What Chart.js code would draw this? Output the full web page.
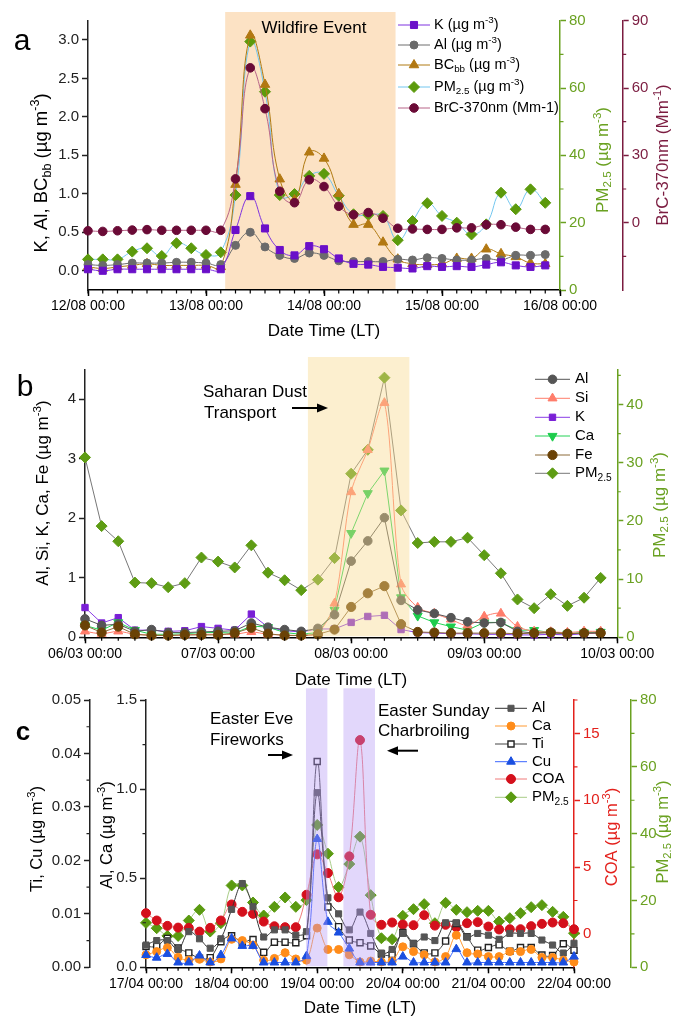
<!DOCTYPE html>
<html lang="en">
<head>
<meta charset="UTF-8" />
<title>Episodes: wildfire, Saharan dust, Easter</title>
<script src="https://cdn.jsdelivr.net/npm/chart.js"></script>
<style>
  body { margin: 0; background: #fff; }
  #wrap { position: relative; width: 675px; height: 1018px; overflow: hidden; }
  canvas { position: absolute; left: 0; }
</style>
</head>
<body>
<div id="wrap">
  <canvas id="chartA" width="675" height="345" style="top:0px"></canvas>
  <canvas id="chartB" width="675" height="360" style="top:335px"></canvas>
  <canvas id="chartC" width="675" height="338" style="top:680px"></canvas>
</div>

<script>
// ---- categories (3-hourly) ----
const hours = ['00:00','03:00','06:00','09:00','12:00','15:00','18:00','21:00'];
const aDays = ['12/08','13/08','14/08','15/08','16/08'];
const bDays = ['06/03','07/03','08/03','09/03','10/03'];
const cDays = ['17/04','18/04','19/04','20/04','21/04','22/04'];

function slots(days) {
  const out = [];
  days.forEach((d, i) => {
    (i < days.length - 1 ? hours : ['00:00']).forEach(h => out.push(d + ' ' + h));
  });
  return out;
}
const aLabels = slots(aDays);
const bLabels = slots(bDays);
const cLabels = slots(cDays);

// ---- panel a: wildfire ----
const aK   = [0.02,0.0,0.02,0.02,0.02,0.02,0.02,0.02,0.02,0.02,0.53,0.97,0.55,0.27,0.2,0.32,0.28,0.16,0.09,0.08,0.05,0.04,0.03,0.06,0.05,0.06,0.05,0.08,0.11,0.07,0.05,0.07];
const aAl  = [0.08,0.07,0.08,0.1,0.1,0.1,0.11,0.11,0.1,0.08,0.33,0.5,0.31,0.2,0.16,0.23,0.2,0.13,0.12,0.12,0.12,0.15,0.14,0.17,0.16,0.14,0.14,0.16,0.14,0.2,0.2,0.21];
const aBC  = [0.05,0.03,0.05,0.07,0.09,0.07,0.07,0.07,0.07,0.05,1.12,3.06,2.42,1.19,0.92,1.54,1.46,1.0,0.6,0.6,0.37,0.15,0.09,0.08,0.09,0.16,0.16,0.28,0.22,0.18,0.1,0.09];
const aPM  = [9.1,9.1,9.1,11.4,12.4,10.1,13.9,12.4,10.4,11.2,28.2,73.8,58.9,28.2,28.5,33.9,34.5,28.0,22.5,22.3,22,14.8,20.5,25.8,22,20,16.5,19.5,28.9,24,29.9,25.9];
const aBrC = [-3.6,-3.9,-3.6,-3.3,-3.1,-3.4,-3.4,-3.4,-3.4,-3.4,19.5,69.0,50.8,14.0,8.9,19.1,16.1,7.3,3.5,4.5,2,-2.5,-2.8,-3,-3,-2.3,-2.3,-0.9,-0.9,-2,-3,-3];
const aFire = [9.3, 20.85];
const aLeftTicks = [0,0.5,1,1.5,2,2.5,3];
const aPMTicks = [0,20,40,60,80];
const aPMMinor = [10,30,50,70];
const aBrCTicks = [0,30,60,90];
const aBrCMinor = [-15,15,45,75];

// ---- panel b: Saharan dust ----
const bAl = [0.31,0.2,0.22,0.1,0.13,0.08,0.08,0.09,0.1,0.11,0.24,0.17,0.13,0.1,0.15,0.38,1.28,1.62,2.01,0.62,0.46,0.4,0.33,0.26,0.24,0.25,0.1,0.07,0.08,0.06,0.07,0.08];
const bSi = [0.1,0.06,0.1,0.05,0.04,0.03,0.04,0.05,0.05,0.05,0.09,0.05,0.04,0.03,0.07,0.57,2.44,3.15,3.94,0.89,0.5,0.4,0.3,0.2,0.35,0.4,0.18,0.1,0.09,0.08,0.1,0.1];
const bK  = [0.5,0.24,0.33,0.12,0.12,0.1,0.11,0.18,0.15,0.12,0.39,0.17,0.11,0.09,0.14,0.14,0.25,0.35,0.37,0.13,0.08,0.07,0.06,0.06,0.05,0.05,0.04,0.04,0.05,0.04,0.06,0.07];
const bCa = [0.2,0.12,0.25,0.12,0.05,0.05,0.06,0.08,0.08,0.07,0.19,0.17,0.08,0.05,0.08,0.46,1.75,2.42,2.8,0.67,0.36,0.25,0.18,0.12,0.25,0.25,0.12,0.12,0.08,0.06,0.08,0.09];
const bFe = [0.2,0.08,0.18,0.05,0.03,0.03,0.04,0.04,0.04,0.07,0.16,0.06,0.03,0.03,0.05,0.13,0.51,0.74,0.86,0.22,0.09,0.08,0.07,0.07,0.07,0.07,0.06,0.07,0.08,0.06,0.07,0.07];
const bPM = [30.9,19.1,16.5,9.4,9.3,8.6,9.3,13.7,13.0,12.0,15.8,11.1,9.8,8.1,9.9,13.6,28.1,32.2,44.6,21.8,16.2,16.4,16.4,17.1,14.1,11.0,6.5,5.0,7.4,5.4,6.8,10.2];
const bDust = [13.4, 19.5];
const bLeftTicks = [0,1,2,3,4];
const bPMTicks = [0,10,20,30,40];
const bPMMinor = [5,15,25,35,45];

// ---- panel c: Easter ----
const cAl  = [0.125,0.15,0.15,0.1,0.2,0.16,0.107,0.16,0.325,0.47,0.34,0.17,0.21,0.21,0.18,0.2,0.98,0.39,0.3,0.21,0.31,0.19,0.08,0.1,0.19,0.135,0.17,0.15,0.25,0.25,0.17,0.19,0.18,0.157,0.19,0.19,0.19,0.153,0.125,0.08,0.135];
const cCa  = [0.07,0.088,0.11,0.056,0.04,0.045,0.03,0.047,0.157,0.15,0.125,0.04,0.05,0.082,0.047,0.04,0.22,0.1,0.1,0.07,0.03,0.035,0.03,0.035,0.115,0.088,0.07,0.03,0.06,0.18,0.082,0.075,0.06,0.06,0.088,0.088,0.1,0.055,0.055,0.04,0.03];
const cTi  = [0.0039,0.0039,0.0054,0.0036,0.0027,0.0017,0.0018,0.0048,0.0059,0.0046,0.0052,0.0028,0.0047,0.0047,0.0046,0.0059,0.0385,0.0113,0.0076,0.0051,0.0046,0.004,0.0025,0.0024,0.0065,0.0044,0.0027,0.0027,0.0049,0.0082,0.0057,0.0032,0.0037,0.0042,0.003,0.0037,0.0037,0.0023,0.0022,0.0044,0.0032];
const cCu  = [0.0023,0.0018,0.0025,0.0009,0.0009,0.0022,0.0009,0.0023,0.0054,0.004,0.004,0.0009,0.0009,0.0009,0.0009,0.0021,0.024,0.0085,0.0065,0.0035,0.0009,0.0009,0.0009,0.0009,0.002,0.0009,0.0009,0.0009,0.0009,0.0034,0.0009,0.0009,0.0009,0.0009,0.0009,0.0009,0.0009,0.0009,0.0009,0.0009,0.002];
const cCOA = [1.55,1.0,0.6,0.47,0.45,0.17,0.45,1.0,2.2,1.65,1.5,0.92,0.57,0.5,0.5,2.93,5.95,4.55,2.74,5.8,14.5,1.43,0.68,0.85,0.7,0.65,1.4,0.62,0.68,0.5,0.8,0.88,0.55,0.33,0.35,0.35,0.58,0.75,0.85,0.8,0.35];
const cPM  = [13.3,11.7,9.4,9.4,14,17.2,10.7,13.2,24.5,24.5,19.4,15.5,18.1,20.9,18.1,20.1,42.6,34,24,30.9,39.1,21.6,8.7,8.4,15.4,17.4,18.9,13.2,19.3,17.2,16.5,16.9,16.9,13.7,14.7,16.2,18.0,18.6,16.6,15.1,10.2];
const cEve = [14.95, 16.95];
const cSunday = [18.45, 21.4];
const cTiTicks = [0,0.01,0.02,0.03,0.04,0.05];
const cTiMinor = [0.005,0.015,0.025,0.035,0.045];
const cAlTicks = [0,0.5,1,1.5];
const cAlMinor = [0.25,0.75,1.25];
const cCOATicks = [0,5,10,15];
const cCOAMinor = [2.5,7.5,12.5,17.5];
const cPMTicks = [0,20,40,60,80];
const cPMMinor = [10,30,50,70];

// ---- shared bits ----
const FAM = 'Arial, "Liberation Sans", sans-serif';
Chart.defaults.font.family = FAM;
Chart.defaults.font.size = 14;
Chart.defaults.color = '#000';
Chart.defaults.animation = false;

const GREEN = '#6aa121';
const MAROON = '#7b1c40';
const RED = '#e3211c';
const DEG90 = -Math.PI / 2;

// draw text with _{sub} and ^{sup}
function drawRich(ctx, str, x, y, o) {
  const parts = [];
  const re = /([_^])\{([^}]*)\}/g;
  let last = 0, m;
  while ((m = re.exec(str))) {
    if (m.index > last) parts.push({ t: str.slice(last, m.index), k: '' });
    parts.push({ t: m[2], k: m[1] });
    last = re.lastIndex;
  }
  if (last < str.length) parts.push({ t: str.slice(last), k: '' });
  const size = o.size || 14;
  const fontFor = k => (o.bold ? 'bold ' : '') + (k ? size * 0.68 : size) + 'px ' + FAM;
  let w = 0;
  parts.forEach(p => { ctx.font = fontFor(p.k); p.w = ctx.measureText(p.t).width; w += p.w; });
  ctx.save();
  ctx.translate(x, y);
  if (o.rot) ctx.rotate(o.rot);
  ctx.fillStyle = o.color || '#000';
  ctx.textBaseline = 'middle';
  ctx.textAlign = 'left';
  let cx = o.align === 'left' ? 0 : o.align === 'right' ? -w : -w / 2;
  parts.forEach(p => {
    ctx.font = fontFor(p.k);
    const dy = p.k === '_' ? size * 0.3 : p.k === '^' ? -size * 0.33 : 0;
    ctx.fillText(p.t, cx, dy);
    cx += p.w;
  });
  ctx.restore();
}

function drawArrow(ctx, x0, y, x1) {
  const dir = Math.sign(x1 - x0);
  ctx.save();
  ctx.strokeStyle = '#000';
  ctx.fillStyle = '#000';
  ctx.lineWidth = 2;
  ctx.beginPath();
  ctx.moveTo(x0, y);
  ctx.lineTo(x1 - dir * 8, y);
  ctx.stroke();
  ctx.beginPath();
  ctx.moveTo(x1, y);
  ctx.lineTo(x1 - dir * 11, y - 4.5);
  ctx.lineTo(x1 - dir * 11, y + 4.5);
  ctx.closePath();
  ctx.fill();
  ctx.restore();
}

function paintShade(chart, o) {
  const { ctx, chartArea: ca, scales: { x } } = chart;
  ctx.save();
  ctx.fillStyle = o.color;
  o.ranges.forEach(([f, t]) => {
    const x0 = x.getPixelForValue(f), x1 = x.getPixelForValue(t);
    ctx.fillRect(x0, ca.top - o.extra, x1 - x0, ca.bottom - ca.top + o.extra - 1);
  });
  ctx.restore();
}

const shadePlugin = {
  id: 'shade',
  beforeDatasetsDraw(chart, args, o) { if (!o.above) paintShade(chart, o); },
  afterDatasetsDraw(chart, args, o) { if (o.above) paintShade(chart, o); }
};

const minorPlugin = {
  id: 'minor',
  afterDraw(chart, args, o) {
    const ctx = chart.ctx;
    Object.entries(o.scales || {}).forEach(([id, vals]) => {
      const s = chart.scales[id];
      ctx.save();
      ctx.strokeStyle = s.options.border.color;
      ctx.lineWidth = 1.2;
      ctx.beginPath();
      vals.forEach(v => {
        const p = s.getPixelForValue(v);
        if (s.isHorizontal()) { ctx.moveTo(p, s.top); ctx.lineTo(p, s.top + 3.5); }
        else if (s.position === 'left') { ctx.moveTo(s.right, p); ctx.lineTo(s.right - 3.5, p); }
        else { ctx.moveTo(s.left, p); ctx.lineTo(s.left + 3.5, p); }
      });
      ctx.stroke();
      ctx.restore();
    });
  }
};

const legendPlugin = {
  id: 'keys',
  afterDraw(chart, args, o) {
    const ctx = chart.ctx;
    chart.data.datasets.forEach((ds, i) => {
      const y = o.rows[i];
      ctx.save();
      ctx.strokeStyle = ds.borderColor;
      ctx.lineWidth = 1;
      ctx.beginPath();
      ctx.moveTo(o.x0, y);
      ctx.lineTo(o.x1, y);
      ctx.stroke();
      ctx.fillStyle = ds.pointBackgroundColor;
      ctx.strokeStyle = ds.pointBorderColor;
      ctx.lineWidth = ds.pointBorderWidth;
      Chart.helpers.drawPoint(ctx, {
        pointStyle: ds.pointStyle, radius: ds.pointRadius,
        rotation: ds.pointRotation, borderWidth: ds.pointBorderWidth
      }, (o.x0 + o.x1) / 2, y);
      ctx.restore();
      drawRich(ctx, o.labels[i], o.tx, y, { size: o.size, align: 'left' });
    });
  }
};

const textPlugin = {
  id: 'notes',
  afterDraw(chart, args, o) {
    const ctx = chart.ctx;
    (o.items || []).forEach(t => drawRich(ctx, t.s, t.x, t.y, t));
    (o.arrows || []).forEach(a => drawArrow(ctx, a[0], a[1], a[2]));
  }
};

function series(label, data, axis, st) {
  return {
    label, data, yAxisID: axis, clip: false,
    borderColor: st.line, borderWidth: 1,
    backgroundColor: st.fill,
    pointBackgroundColor: st.fill,
    pointBorderColor: st.edge || st.fill,
    pointBorderWidth: st.bw || 1,
    pointStyle: st.shape, pointRadius: st.r, pointHoverRadius: st.r,
    pointRotation: st.rot || 0,
    tension: st.tension || 0,
    order: st.order || 0
  };
}

function yAxis(pos, min, max, ticks, color, width, digits, weight) {
  return {
    type: 'linear', position: pos, min, max, weight,
    afterBuildTicks: s => { s.ticks = ticks.map(v => ({ value: v })); },
    afterFit: s => { s.width = width; },
    border: { color, width: 1.5 },
    grid: { drawOnChartArea: false, drawTicks: true, tickLength: 6, tickColor: color, tickWidth: 1.5 },
    ticks: { color, padding: 3, font: { size: 15 }, callback: v => Number(v).toFixed(digits) }
  };
}

function xAxis(height) {
  return {
    type: 'category', offset: false,
    afterBuildTicks: s => { s.ticks = s.ticks.filter(t => t.value % 8 === 0); },
    afterFit: s => { s.height = height; },
    border: { color: '#000', width: 1.5 },
    grid: { drawOnChartArea: false, drawTicks: true, tickLength: 6, tickColor: '#000', tickWidth: 1.5, offset: false },
    ticks: { autoSkip: false, maxRotation: 0, color: '#000', padding: 2, font: { size: 14 } }
  };
}

const idx = n => Array.from({ length: n }, (_, i) => i);
const common = { responsive: false, animation: false, events: [] };

// ---- chart a ----
new Chart(document.getElementById('chartA'), {
  type: 'line',
  data: {
    labels: aLabels,
    datasets: [
      series('K', aK, 'y', { line: '#7f33e0', fill: '#6a0fc9', shape: 'rect', r: 5, tension: 0.45, order: 0 }),
      series('Al', aAl, 'y', { line: '#6e6e6e', fill: '#6b6b6b', shape: 'circle', r: 4, tension: 0.45, order: 1 }),
      series('BCbb', aBC, 'y', { line: '#b07a12', fill: '#b27812', shape: 'triangle', r: 5.5, tension: 0.45, order: 3 }),
      series('PM2.5', aPM, 'pm', { line: '#72c6ef', fill: '#5c9a0c', shape: 'rectRot', r: 5.5, tension: 0.45, order: 4 }),
      series('BrC', aBrC, 'brc', { line: '#b86488', fill: '#6a0a36', shape: 'circle', r: 4.3, tension: 0.45, order: 2 })
    ]
  },
  options: Object.assign({}, common, {
    layout: { padding: { left: 0, right: 0, top: 20.7, bottom: 15 } },
    scales: {
      x: xAxis(40),
      y: yAxis('left', -0.25, 3.25, aLeftTicks, '#222', 88, 1, 0),
      pm: yAxis('right', 0, 80, aPMTicks, GREEN, 62.7, 0, 0),
      brc: yAxis('right', -30, 90, aBrCTicks, MAROON, 52.3, 0, 1)
    },
    plugins: {
      legend: { display: false }, tooltip: { enabled: false },
      shade: { ranges: [aFire], color: 'rgb(252,226,196)', extra: 8.7, above: false },
      minor: { scales: { x: idx(33), pm: aPMMinor, brc: aBrCMinor } },
      keys: {
        x0: 398, x1: 430, tx: 434, size: 14.5, rows: [25, 45, 65, 87, 108],
        labels: ['K (µg m^{-3})', 'Al (µg m^{-3})', 'BC_{bb} (µg m^{-3})', 'PM_{2.5} (µg m^{-3})', 'BrC-370nm (Mm-1)']
      },
      notes: {
        items: [
          { s: 'a', x: 22, y: 42, size: 30 },
          { s: 'Wildfire Event', x: 314, y: 28, size: 17 },
          { s: 'K, Al, BC_{bb} (µg m^{-3})', x: 42, y: 173, size: 18.5, rot: DEG90 },
          { s: 'PM_{2.5} (µg m^{-3})', x: 603, y: 160, size: 17, rot: DEG90, color: GREEN },
          { s: 'BrC-370nm (Mm^{-1})', x: 663, y: 155, size: 17, rot: DEG90, color: MAROON },
          { s: 'Date Time (LT)', x: 324, y: 331, size: 17 }
        ]
      }
    }
  }),
  plugins: [shadePlugin, minorPlugin, legendPlugin, textPlugin]
});

// ---- chart b ----
new Chart(document.getElementById('chartB'), {
  type: 'line',
  data: {
    labels: bLabels,
    datasets: [
      series('Al', bAl, 'y', { line: '#555555', fill: '#555555', shape: 'circle', r: 4.3, order: 1 }),
      series('Si', bSi, 'y', { line: '#ff7d6b', fill: '#ff7d6b', shape: 'triangle', r: 5.2, tension: 0.3, order: 2 }),
      series('K', bK, 'y', { line: '#8a3ce6', fill: '#7a1fd6', shape: 'rect', r: 4.5, order: 4 }),
      series('Ca', bCa, 'y', { line: '#25d256', fill: '#1dcc4c', shape: 'triangle', rot: 180, r: 5.2, order: 3 }),
      series('Fe', bFe, 'y', { line: '#8c6a38', fill: '#6a4206', shape: 'circle', r: 4.6, order: 0 }),
      series('PM2.5', bPM, 'pm', { line: '#777777', fill: '#5e9c14', shape: 'rectRot', r: 5.5, order: 5 })
    ]
  },
  options: Object.assign({}, common, {
    layout: { padding: { left: 0, right: 0, top: 34.5, bottom: 17.7 } },
    scales: {
      x: xAxis(40),
      y: yAxis('left', 0, 4.5, bLeftTicks, '#222', 85, 0, 0),
      pm: yAxis('right', 0, 46, bPMTicks, GREEN, 57.7, 0, 0)
    },
    plugins: {
      legend: { display: false }, tooltip: { enabled: false },
      shade: { ranges: [bDust], color: 'rgba(248,218,140,0.42)', extra: 12.5, above: true },
      minor: { scales: { x: idx(33), pm: bPMMinor } },
      keys: {
        x0: 535, x1: 570, tx: 575, size: 15, rows: [44.3, 63.3, 82.3, 101, 120, 138.3],
        labels: ['Al', 'Si', 'K', 'Ca', 'Fe', 'PM_{2.5}']
      },
      notes: {
        items: [
          { s: 'b', x: 25, y: 53, size: 30 },
          { s: 'Saharan Dust', x: 203, y: 57, size: 17, align: 'left' },
          { s: 'Transport', x: 204, y: 78, size: 17, align: 'left' },
          { s: 'Al, Si, K, Ca, Fe (µg m^{-3})', x: 43, y: 158, size: 17, rot: DEG90 },
          { s: 'PM_{2.5} (µg m^{-3})', x: 660, y: 170, size: 17, rot: DEG90, color: GREEN },
          { s: 'Date Time (LT)', x: 351, y: 345, size: 17 }
        ],
        arrows: [[292, 73, 328]]
      }
    }
  }),
  plugins: [shadePlugin, minorPlugin, legendPlugin, textPlugin]
});

// ---- chart c ----
new Chart(document.getElementById('chartC'), {
  type: 'line',
  data: {
    labels: cLabels,
    datasets: [
      series('Al', cAl, 'al', { line: '#333333', fill: '#555555', shape: 'rect', r: 4.3, tension: 0.35, order: 2 }),
      series('Ca', cCa, 'al', { line: '#ff9a33', fill: '#ff8c1a', shape: 'circle', r: 4, tension: 0.35, order: 1 }),
      series('Ti', cTi, 'ti', { line: '#444444', fill: '#ffffff', edge: '#222222', bw: 1.4, shape: 'rect', r: 4.3, tension: 0.35, order: 3 }),
      series('Cu', cCu, 'ti', { line: '#3a66ff', fill: '#1a4fe0', shape: 'triangle', r: 5, tension: 0.35, order: 0 }),
      series('COA', cCOA, 'coa', { line: '#f07a7a', fill: '#d4101c', shape: 'circle', r: 4.5, tension: 0.35, order: 4 }),
      series('PM2.5', cPM, 'pm', { line: '#a8cc86', fill: '#5a9a10', shape: 'rectRot', r: 5.5, tension: 0.35, order: 5 })
    ]
  },
  options: Object.assign({}, common, {
    layout: { padding: { left: 0, right: 0, top: 20, bottom: 14.7 } },
    scales: {
      x: xAxis(36),
      ti: yAxis('left', 0, 0.05, cTiTicks, '#222', 90, 2, 1),
      al: yAxis('left', 0, 1.5, cAlTicks, '#222', 56, 1, 0),
      coa: yAxis('right', -2.5, 17.5, cCOATicks, RED, 57, 0, 0),
      pm: yAxis('right', 0, 80, cPMTicks, GREEN, 44, 0, 1)
    },
    plugins: {
      legend: { display: false }, tooltip: { enabled: false },
      shade: { ranges: [cEve, cSunday], color: 'rgba(180,150,245,0.38)', extra: 11.7, above: true },
      minor: { scales: { x: idx(41), ti: cTiMinor, al: cAlMinor, coa: cCOAMinor, pm: cPMMinor } },
      keys: {
        x0: 495, x1: 527, tx: 532, size: 15, rows: [28.3, 46, 64, 81.7, 99, 117.3],
        labels: ['Al', 'Ca', 'Ti', 'Cu', 'COA', 'PM_{2.5}']
      },
      notes: {
        items: [
          { s: 'c', x: 23, y: 53, size: 26, bold: true },
          { s: 'Easter Eve', x: 210, y: 39.3, size: 17, align: 'left' },
          { s: 'Fireworks', x: 210, y: 60, size: 17, align: 'left' },
          { s: 'Easter Sunday', x: 378, y: 31.7, size: 17, align: 'left' },
          { s: 'Charbroiling', x: 378, y: 51.7, size: 17, align: 'left' },
          { s: 'Ti, Cu (µg m^{-3})', x: 37, y: 159, size: 16.5, rot: DEG90 },
          { s: 'Al, Ca (µg m^{-3})', x: 107, y: 155, size: 16.5, rot: DEG90 },
          { s: 'COA (µg m^{-3})', x: 612, y: 157, size: 16.5, rot: DEG90, color: RED },
          { s: 'PM_{2.5} (µg m^{-3})', x: 663, y: 152, size: 16.5, rot: DEG90, color: GREEN },
          { s: 'Date Time (LT)', x: 360, y: 328, size: 17 }
        ],
        arrows: [[268, 75, 293], [418, 70.7, 387]]
      }
    }
  }),
  plugins: [shadePlugin, minorPlugin, legendPlugin, textPlugin]
});
</script>
</body>
</html>
